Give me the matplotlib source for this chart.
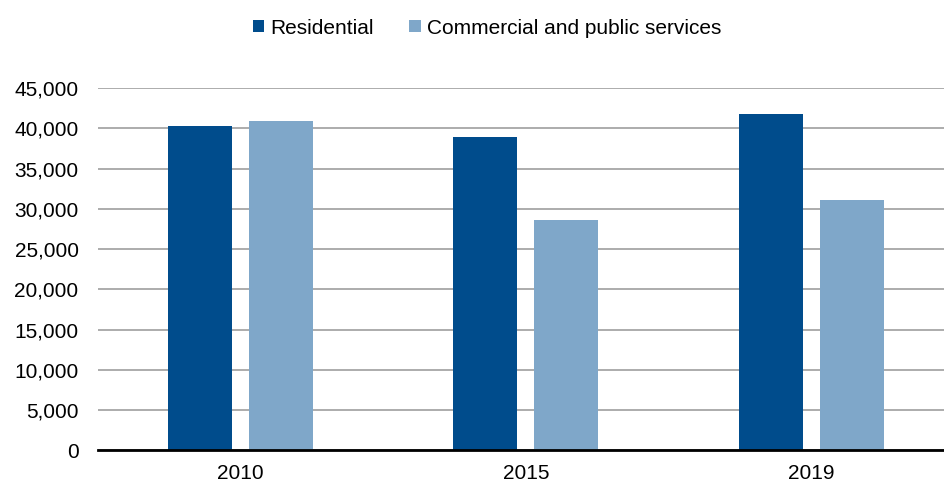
import numpy as np
import matplotlib.pyplot as plt

plt.rcParams['font.family'] = ['Liberation Sans', 'DejaVu Sans']

years = ['2010', '2015', '2019']
residential = [40320, 38970, 41810]
commercial = [40870, 28560, 31080]

col_res = '#004C8C'
col_com = '#7FA7C9'

fig = plt.figure(figsize=(9.44, 4.84), dpi=100)
ax = fig.add_axes([98 / 944, 1 - 450.3 / 484, 1 - 98 / 944, (450.3 - 88) / 484])

x = np.arange(len(years))
w = 0.224
off = 0.142
ax.bar(x - off, residential, w, color=col_res, label='Residential', zorder=3)
ax.bar(x + off, commercial, w, color=col_com, label='Commercial and public services', zorder=3)

ax.set_xlim(-0.5, (944 - 240) / 285.5)
ax.set_ylim(0, 45000)
ax.set_yticks(np.arange(0, 45001, 5000))
ax.set_yticklabels([f'{v:,}' for v in range(0, 45001, 5000)])
ax.set_xticks(x)
ax.set_xticklabels(years)
ax.tick_params(axis='both', length=0, labelsize=15, colors='#000000')
ax.tick_params(axis='y', pad=14)
ax.tick_params(axis='x', pad=10)

ax.grid(axis='y', color='#A6A6A6', linewidth=1.3, zorder=0)
for s in ['top', 'right', 'left']:
    ax.spines[s].set_visible(False)
ax.spines['bottom'].set_color('#000000')
ax.spines['bottom'].set_linewidth(2)
ax.spines['bottom'].set_zorder(4)

fig.legend(loc='center', bbox_to_anchor=(487 / 944, 1 - 28 / 484), ncol=2, frameon=False,
           fontsize=15, handlelength=0.55, handleheight=0.55, handletextpad=0.3,
           columnspacing=1.7)

fig.savefig('out.png', dpi=100)
